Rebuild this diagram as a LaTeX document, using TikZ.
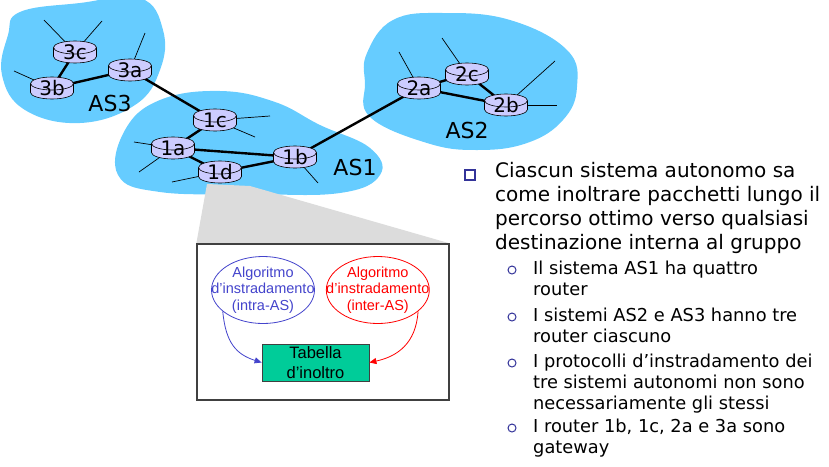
\documentclass[tikz,border=0pt]{standalone}
\usepackage{fontspec}
\setmainfont{DejaVu Sans}
\newfontfamily\boxfont{Liberation Sans}
\usetikzlibrary{arrows.meta,positioning,shapes.geometric,shadows}
\definecolor{cloudblue}{HTML}{66CCFF}
\definecolor{routerfill}{HTML}{CCCCFF}
\definecolor{intrablue}{HTML}{4444CC}
\definecolor{interred}{HTML}{FF0000}
\definecolor{tabgreen}{HTML}{00CC99}
\definecolor{zoomgray}{HTML}{DCDCDC}
\definecolor{boxgray}{HTML}{404040}
\definecolor{bulletnavy}{HTML}{333399}
\pgfdeclarelayer{bg}
\pgfdeclarelayer{wires}
\pgfsetlayers{bg,wires,main}
% router icon: flat cylinder with its name on top
\newcommand{\routerat}[3]{%
  \begin{scope}[shift={(#2)},line width=.6pt]
  \filldraw[fill=routerfill] (-21.5,-4.5) -- (-21.5,4.5) arc[start angle=180,end angle=360,x radius=21.5pt,y radius=6.5pt] -- (21.5,-4.5);
  \filldraw[fill=routerfill] (0,-4.5) ellipse[x radius=21.5pt,y radius=6.5pt];
  \end{scope}
  \node[routerlabel] (#1) at (#2) {#3};}

\begin{document}
\begin{tikzpicture}[x=1pt,y=-1pt,every node/.style={inner sep=0pt},
  routerlabel/.style={minimum width=43pt,minimum height=22pt,font=\fontsize{20}{20}\selectfont},
  link/.style={line width=2.4pt},
  stub/.style={line width=.7pt},
  aslabel/.style={font=\fontsize{22}{22}\selectfont},
  algo/.style={ellipse,draw,line width=.8pt,minimum width=103pt,minimum height=67pt},
  algotext/.style={align=center,font=\boxfont\fontsize{14.5}{16.5}\selectfont},
  bigtext/.style={anchor=north west,align=left,font=\fontsize{20}{24}\selectfont},
  subtext/.style={anchor=north west,align=left,font=\fontsize{17.8}{21}\selectfont},
  subdot/.style={circle,draw=bulletnavy,line width=1pt,fill=white,minimum size=8pt}]
\useasboundingbox (0,0) rectangle (829,466);

% the three autonomous systems
\begin{pgfonlayer}{bg}
\fill[cloudblue] plot[smooth cycle,tension=0.7] coordinates {(20,12) (80,3) (140,-2) (163,30) (160,70) (135,105) (80,123) (25,110) (2,75) (8,35)};
\fill[cloudblue] plot[smooth cycle,tension=0.7] coordinates {(160,100) (220,91) (275,102) (320,125) (370,148) (380,175) (340,193) (250,194) (160,192) (118,175) (125,130)};
\fill[cloudblue] plot[smooth cycle,tension=0.7] coordinates {(367,53) (393,20) (443,13) (510,20) (567,50) (577,87) (563,120) (527,143) (477,150) (427,143) (370,117) (365,83)};
\end{pgfonlayer}

% routers
\routerat{r3c}{75,52}{3c}
\routerat{r3b}{52,88}{3b}
\routerat{r3a}{130,70}{3a}
\routerat{r1c}{215,120}{1c}
\routerat{r1a}{173,148}{1a}
\routerat{r1d}{220,172}{1d}
\routerat{r1b}{295,157}{1b}
\routerat{r2a}{419,88}{2a}
\routerat{r2c}{467,74}{2c}
\routerat{r2b}{506,105}{2b}

\node[aslabel] (as3) at (110,103) {AS3};
\node[aslabel] (as1) at (355,167) {AS1};
\node[aslabel] (as2) at (467,130) {AS2};

\begin{pgfonlayer}{wires}
\foreach \a/\b in {r3c/r3b,r3b/r3a,r3a/r1c,r1c/r1a,r1a/r1b,r1a/r1d,r1d/r1b,r1b/r2a,r2a/r2c,r2a/r2b,r2c/r2b}
  \draw[link] (\a.center) -- (\b.center);
\foreach \r/\dx/\dy in {r3c/-31/-32,r3c/27/-31,r3b/-38/-17,r3a/15/-37,r1c/55/-4,r1c/40/17,r1a/-39/-6,r1a/-34/24,r1d/-48/10,r1b/23/26,r2a/-20/-36,r2c/-25/-36,r2b/49/-44,r2b/51/0}
  \draw[stub] (\r.center) -- ++(\dx,\dy);
\end{pgfonlayer}

% zoom on router 1d
\node[draw=boxgray,line width=1.3pt,fill=white,minimum width=252pt,minimum height=156pt] (zoombox) at (323,322) {};
\begin{pgfonlayer}{bg}
\fill[zoomgray] (207,184) -- (250,186) -- (zoombox.north east) -- (zoombox.north west) -- cycle;
\end{pgfonlayer}

\node[algo,draw=intrablue] (intra) at (263,290) {};
\node[algo,draw=interred,right=11pt of intra] (inter) {};
\node[algotext,text=intrablue] (intratext) at (intra) {Algoritmo\\d’instradamento\\(intra-AS)};
\node[algotext,text=interred] (intertext) at (inter) {Algoritmo\\d’instradamento\\(inter-AS)};
\node[draw=black!75,line width=.8pt,fill=tabgreen,minimum width=107pt,minimum height=37pt,align=center,
  font=\boxfont\fontsize{16.5}{20}\selectfont] (tab) at (315.5,362.5) {Tabella\\d’inoltro};
\draw[intrablue,line width=.8pt,-{Triangle[length=7pt,width=6pt]}] (intra.208) .. controls +(3,32) and +(-25,-8) .. (tab.west);
\draw[interred,line width=.8pt,-{Triangle[length=7pt,width=6pt]}] (inter.332) .. controls +(-2,32) and +(28,-6) .. (tab.east);

% bullet list
\node[draw=bulletnavy,line width=1.2pt,fill=white,minimum size=10pt,
  drop shadow={shadow xshift=1.2pt,shadow yshift=-1.2pt,fill=bulletnavy,opacity=.8}] (sq) at (470,175) {};
\node[bigtext] (main) at (495,162) {Ciascun sistema autonomo sa\\come inoltrare pacchetti lungo il\\percorso ottimo verso qualsiasi\\destinazione interna al gruppo};
\node[subdot] (dot1) at (512,270) {};
\node[subtext] (item1) at (533,261) {Il sistema AS1 ha quattro\\router};
\node[subdot] (dot2) at (512,317) {};
\node[subtext] (item2) at (533,308) {I sistemi AS2 e AS3 hanno tre\\router ciascuno};
\node[subdot] (dot3) at (512,363) {};
\node[subtext] (item3) at (533,354) {I protocolli d’instradamento dei\\tre sistemi autonomi non sono\\necessariamente gli stessi};
\node[subdot] (dot4) at (512,428) {};
\node[subtext] (item4) at (533,419) {I router 1b, 1c, 2a e 3a sono\\gateway};
\end{tikzpicture}
\end{document}
